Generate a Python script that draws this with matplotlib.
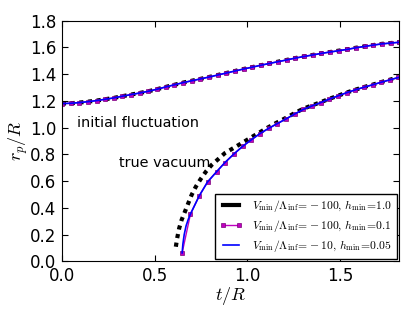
import numpy as np
import matplotlib
matplotlib.use('Agg')
import matplotlib.pyplot as plt

plt.rcParams['mathtext.fontset'] = 'cm'
plt.rcParams['font.family'] = 'DejaVu Sans'

# upper branch (initial fluctuation), marker samples
t_up = [0.0, 0.047, 0.093, 0.14, 0.187, 0.233, 0.28, 0.327, 0.373, 0.42,
        0.467, 0.513, 0.56, 0.607, 0.653, 0.70, 0.747, 0.793, 0.84, 0.887,
        0.933, 0.98, 1.027, 1.073, 1.12, 1.167, 1.213, 1.26, 1.307, 1.353,
        1.40, 1.447, 1.493, 1.54, 1.587, 1.633, 1.68, 1.727, 1.773, 1.82]
r_up = [1.180, 1.182, 1.187, 1.194, 1.202, 1.212, 1.222, 1.235, 1.247, 1.259,
        1.272, 1.287, 1.304, 1.320, 1.336, 1.350, 1.364, 1.378, 1.393, 1.408,
        1.423, 1.438, 1.452, 1.466, 1.480, 1.493, 1.506, 1.520, 1.532, 1.543,
        1.555, 1.565, 1.575, 1.585, 1.597, 1.607, 1.617, 1.626, 1.632, 1.638]

# lower branch (true vacuum), marker samples
t_lo = [0.649, 0.694, 0.741, 0.786, 0.835, 0.879, 0.928, 0.975, 1.023, 1.068,
        1.116, 1.162, 1.209, 1.256, 1.302, 1.349, 1.396, 1.442, 1.489, 1.536,
        1.582, 1.629, 1.676, 1.722, 1.769, 1.816]
r_lo = [0.064, 0.355, 0.490, 0.594, 0.671, 0.738, 0.803, 0.860, 0.910, 0.955,
        0.995, 1.030, 1.065, 1.102, 1.136, 1.162, 1.187, 1.213, 1.237, 1.261,
        1.282, 1.302, 1.320, 1.339, 1.357, 1.375]

# blue (h_min=0.05) lower branch, extra points near the bottom
t_lo_b = [0.649, 0.653, 0.660, 0.670, 0.682] + t_lo[1:]
r_lo_b = [0.064, 0.130, 0.200, 0.265, 0.315] + r_lo[1:]

# black (h_min=1.0) lower branch
t_lo_k = [0.615, 0.622, 0.633, 0.646, 0.664, 0.682, 0.700, 0.723, 0.748, 0.777,
          0.808, 0.843, 0.879, 0.924, 0.969, 1.014, 1.059, 1.110, 1.160, 1.209,
          1.256, 1.302, 1.349, 1.396, 1.442, 1.489, 1.536, 1.582, 1.629, 1.676,
          1.722, 1.769, 1.816]
r_lo_k = [0.110, 0.173, 0.248, 0.310, 0.372, 0.435, 0.497, 0.559, 0.614, 0.671,
          0.721, 0.764, 0.809, 0.846, 0.883, 0.921, 0.958, 1.000, 1.038, 1.073,
          1.109, 1.141, 1.166, 1.190, 1.215, 1.238, 1.262, 1.283, 1.303, 1.321,
          1.340, 1.358, 1.376]

labels = [r'$V_{\rm min}/\Lambda_{\rm inf}\!=\!-100,\, h_{\rm min}\!=\!1.0$',
          r'$V_{\rm min}/\Lambda_{\rm inf}\!=\!-100,\, h_{\rm min}\!=\!0.1$',
          r'$V_{\rm min}/\Lambda_{\rm inf}\!=\!-10,\, h_{\rm min}\!=\!0.05$']

fig = plt.figure(figsize=(4.15, 3.12), dpi=100)
ax = fig.add_axes([0.149, 0.162, 0.813, 0.772])

dots = (0, (1.0, 1.1))
ax.plot(t_up, r_up, color='k', lw=3.0, linestyle=dots, label=labels[0])
ax.plot(t_lo_k, r_lo_k, color='k', lw=3.0, linestyle=dots)

ax.plot(t_up, r_up, color='m', lw=1, marker='s', ms=3.4, mec='#7a007a', mew=0.5,
        label=labels[1])
ax.plot(t_lo, r_lo, color='m', lw=1, marker='s', ms=3.4, mec='#7a007a', mew=0.5)

ax.plot(t_up, r_up, color='b', lw=1.2, label=labels[2])
ax.plot(t_lo_b, r_lo_b, color='b', lw=1.2)

ax.text(0.08, 1.033, 'initial fluctuation', fontsize=10.4, va='center')
ax.text(0.308, 0.734, 'true vacuum', fontsize=10.4, va='center')

ax.set_xlim(0, 1.82)
ax.set_ylim(0, 1.8)
ax.set_xticks([0.0, 0.5, 1.0, 1.5])
ax.set_yticks(np.arange(0, 1.81, 0.2))
ax.xaxis.set_major_formatter(matplotlib.ticker.FormatStrFormatter('%.1f'))
ax.yaxis.set_major_formatter(matplotlib.ticker.FormatStrFormatter('%.1f'))
ax.tick_params(direction='in', top=True, right=True, labelsize=12, length=4, pad=4)
ax.set_xlabel(r'$t/R$', fontsize=13, labelpad=0)
ax.set_ylabel(r'$r_p/R$', fontsize=13, labelpad=0)

leg = ax.legend(loc='lower right', fontsize=8.4, numpoints=2, handlelength=2.0,
                borderaxespad=0.2, fancybox=False, framealpha=1,
                labelspacing=0.35, borderpad=0.4, handletextpad=0.8)
leg.get_frame().set_edgecolor('k')
leg.get_lines()[0].set_linestyle('-')

fig.savefig('out.png', dpi=100)
